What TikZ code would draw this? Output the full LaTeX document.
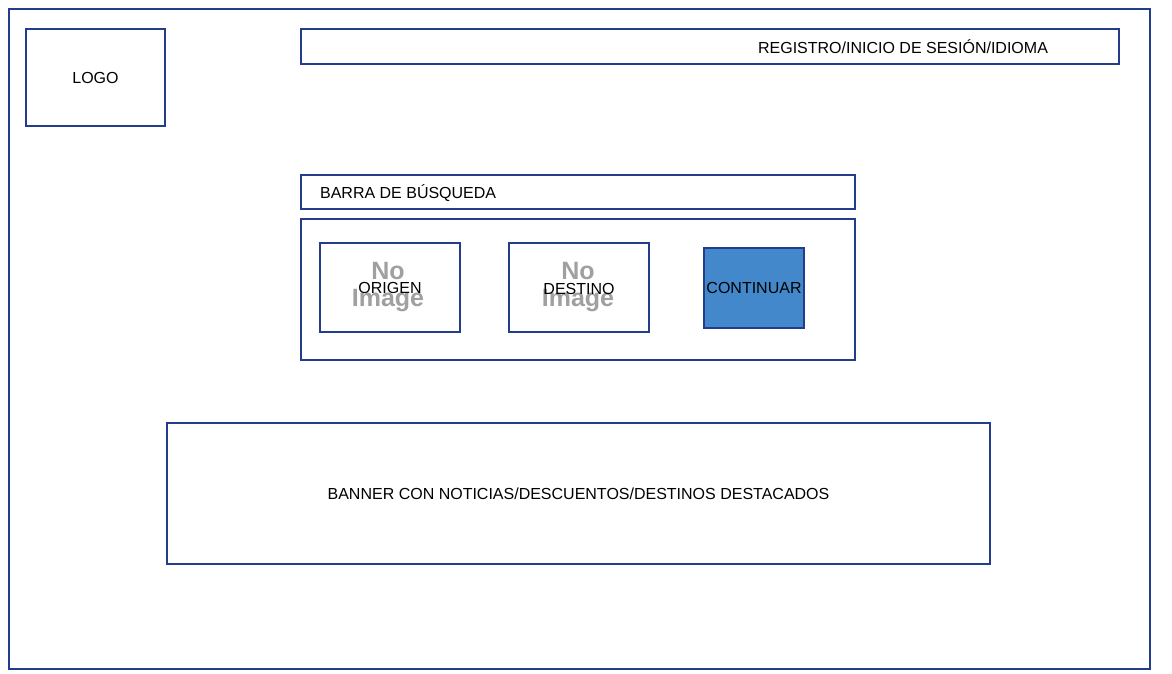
\documentclass[tikz,border=0pt]{standalone}
\usepackage{fontspec}
\setmainfont{Liberation Sans}
\definecolor{marco}{HTML}{233D8C}
\definecolor{boton}{HTML}{4488CC}
\definecolor{noimg}{HTML}{A0A0A0}
\begin{document}
\begin{tikzpicture}
        [x=1pt,y=-1pt,line width=2.2pt,
         caja/.style={draw=marco,fill=white},
         etiqueta/.style={font=\fontsize{16}{19}\selectfont,inner sep=0pt},
         sinimagen/.style={font=\fontsize{25}{27}\selectfont\bfseries,text=noimg,align=center,inner sep=0pt}]
        \useasboundingbox (0,0) rectangle (1172,673);

        % marco de la pagina
        \draw[caja] (9,9) rectangle (1150,669);

        % cabecera
        \draw[caja] (26,29) rectangle (165,126) node[midway,etiqueta] (logo) {LOGO};
        \draw[caja] (301,29) rectangle (1119,64);
        \node[etiqueta,anchor=west] (registro) at (757,47) {REGISTRO/INICIO DE SESIÓN/IDIOMA};

        % busqueda
        \draw[caja] (301,175) rectangle (855,209);
        \node[etiqueta,anchor=west] (barra) at (319,193) {BARRA DE BÚSQUEDA};
        \draw[caja] (301,219) rectangle (855,360);

        \draw[caja] (320,243) rectangle (460,332);
        \node[sinimagen] (imgorigen) at (388,287) {No\\Image};
        \node[etiqueta] (origen) at (390,288) {ORIGEN};

        \draw[caja] (509,243) rectangle (649,332);
        \node[sinimagen] (imgdestino) at (578,287) {No\\Image};
        \node[etiqueta] (destino) at (579,289) {DESTINO};

        \draw[draw=marco,fill=boton] (704,248) rectangle (804,328) node[midway,etiqueta] (continuar) {CONTINUAR};

        % banner
        \draw[caja] (167,423) rectangle (990,564) node[midway,etiqueta] (banner) {BANNER CON NOTICIAS/DESCUENTOS/DESTINOS DESTACADOS};
      \end{tikzpicture}
\end{document}
